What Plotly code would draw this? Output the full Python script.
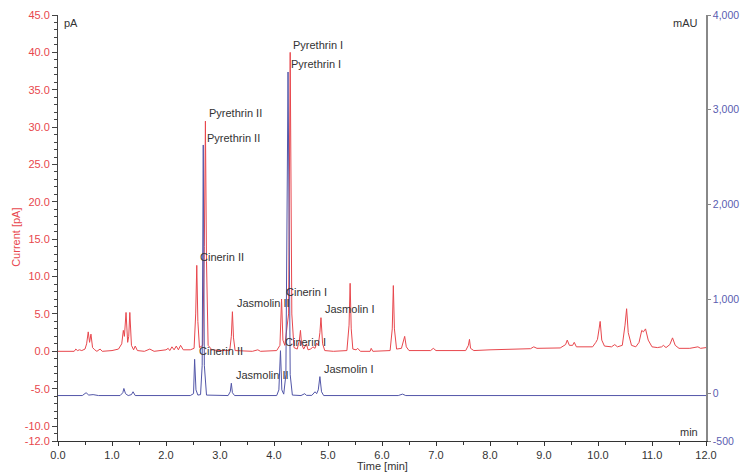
import plotly.graph_objects as go

# FID-like current trace (left axis, pA)
red_time = [0.00, 0.30, 0.33, 0.36, 0.40, 0.44, 0.50, 0.53, 0.56, 0.585, 0.61, 0.64, 0.68, 0.72, 0.78, 0.82,
            1.00, 1.12, 1.18, 1.21, 1.23, 1.26, 1.29, 1.31, 1.33, 1.36, 1.40, 1.43, 1.47, 1.60, 1.70, 1.78,
            2.00, 2.04, 2.07, 2.11, 2.15, 2.19, 2.23, 2.27, 2.32, 2.45, 2.52, 2.55, 2.57, 2.59, 2.62, 2.68,
            2.71, 2.73, 2.75, 2.78, 2.85, 3.00, 3.18, 3.21, 3.23, 3.25, 3.28, 3.60, 3.70, 3.75,
            4.05, 4.11, 4.14, 4.165, 4.20, 4.27, 4.30, 4.33, 4.37, 4.43, 4.47, 4.49, 4.51, 4.55, 4.60, 4.63,
            4.68, 4.72, 4.76, 4.79, 4.82, 4.85, 4.87, 4.90, 4.94, 5.10, 5.35, 5.39, 5.41, 5.43, 5.46, 5.52,
            5.55, 5.60, 5.78, 5.80, 5.83, 6.15, 6.19, 6.21, 6.23, 6.27, 6.36, 6.40, 6.42, 6.45, 6.50, 6.90,
            6.95, 7.00, 7.55, 7.60, 7.62, 7.64, 7.70, 8.00, 8.50, 8.75, 8.81, 8.87, 9.30, 9.40, 9.43, 9.47,
            9.53, 9.56, 9.60, 9.90, 9.96, 9.99, 10.02, 10.04, 10.07, 10.12, 10.25, 10.31, 10.36, 10.45,
            10.50, 10.53, 10.56, 10.62, 10.70, 10.76, 10.81, 10.84, 10.88, 10.93, 11.00, 11.10, 11.18,
            11.21, 11.26, 11.33, 11.38, 11.43, 11.50, 11.70, 11.85, 11.90, 12.00]
red_current = [0.0, 0.0, 0.3, 0.1, 0.2, 0.1, 0.3, 1.0, 2.6, 1.2, 2.3, 0.5, 0.2, 0.0, 0.3, 0.0,
               0.1, 0.3, 1.0, 2.8, 2.0, 5.2, 1.2, 2.0, 5.2, 0.8, 0.2, 0.7, 0.1, 0.0, 0.3, 0.0,
               0.2, 0.4, 0.1, 0.6, 0.2, 0.7, 0.2, 0.8, 0.2, 0.2, 0.4, 5.0, 11.5, 4.0, 0.5, 0.8,
               14.0, 30.8, 12.0, 0.8, 0.2, 0.1, 0.1, 2.0, 5.3, 1.8, 0.1, 0.0, 0.2, 0.0,
               0.1, 0.8, 7.0, 1.5, 0.8, 5.0, 40.0, 5.0, 0.5, 0.3, 1.5, 2.8, 1.0, 0.3, 1.0, 0.2,
               0.3, 0.6, 0.4, 1.1, 0.8, 2.5, 4.5, 1.0, 0.1, 0.0, 0.1, 3.5, 9.1, 3.0, 0.3, 0.2,
               0.4, 0.0, 0.0, 0.4, 0.0, 0.1, 3.0, 8.8, 3.0, 0.3, 0.4, 1.6, 2.0, 0.6, 0.1, 0.1,
               0.4, 0.1, 0.1, 0.8, 1.6, 0.4, 0.1, 0.2, 0.3, 0.35, 0.6, 0.4, 0.45, 0.9, 1.5, 0.8,
               0.8, 1.2, 0.6, 0.6, 1.2, 1.6, 3.0, 4.0, 1.5, 0.7, 0.6, 0.9, 0.6, 0.8,
               3.5, 5.7, 2.5, 0.8, 0.6, 1.2, 2.8, 2.6, 3.0, 1.5, 0.6, 0.5, 0.6,
               0.8, 0.5, 0.9, 1.8, 0.8, 0.4, 0.4, 0.6, 0.4, 0.5]

# UV trace (right axis, mAU)
uv_time = [0.00, 0.45, 0.52, 0.57, 0.65, 0.75, 1.15, 1.20, 1.22, 1.25, 1.30, 1.36, 1.39, 1.43,
           2.45, 2.51, 2.53, 2.555, 2.59, 2.64, 2.67, 2.69, 2.71, 2.75, 3.15, 3.19, 3.21, 3.23, 3.27,
           4.05, 4.09, 4.12, 4.145, 4.18, 4.22, 4.26, 4.30, 4.34, 4.50, 4.55, 4.57, 4.60, 4.70, 4.76,
           4.79, 4.82, 4.85, 4.88, 4.92, 6.30, 6.38, 6.44, 12.00]
uv_absorbance = [-20, -20, 10, -15, -10, -20, -20, 10, 55, 0, -20, -10, 20, -20,
                 -20, 0, 363, 40, -15, -10, 300, 2627, 300, -15, -20, 20, 110, 10, -20,
                 -20, 40, 454, 40, -5, 200, 3398, 200, -15, -20, -10, 0, -18, -18, 20,
                 0, 40, 180, 20, -20, -20, -5, -20, -20]

# Peak labels: (text, time, left-axis value)
label_text = ["Pyrethrin I", "Pyrethrin I", "Pyrethrin II", "Pyrethrin II", "Cinerin II", "Cinerin II",
              "Jasmolin II", "Jasmolin II", "Cinerin I", "Cinerin I", "Jasmolin I", "Jasmolin I"]
label_time = [4.31, 4.28, 2.76, 2.72, 2.59, 2.57, 3.28, 3.26, 4.19, 4.17, 4.91, 4.89]
label_value = [41.0, 38.4, 31.9, 28.6, 12.6, 0.0, 6.4, -3.2, 8.0, 1.2, 5.6, -2.4]

left_ticks = [45, 40, 35, 30, 25, 20, 15, 10, 5, 0, -5, -10, -12]
right_ticks = [4000, 3000, 2000, 1000, 0, -500]
x_ticks = list(range(0, 13))

RED = "#e8474d"
BLUE = "#5256a8"
FONT = "Liberation Sans, Arial, sans-serif"

fig = go.Figure()
fig.add_trace(go.Scatter(x=red_time, y=red_current, mode="lines",
                         line=dict(color=RED, width=1), yaxis="y", showlegend=False))
fig.add_trace(go.Scatter(x=uv_time, y=uv_absorbance, mode="lines",
                         line=dict(color=BLUE, width=1), yaxis="y2", showlegend=False))

annotations = []
for t, x, y in zip(label_text, label_time, label_value):
    annotations.append(dict(text=t, x=x, y=y, xref="x", yref="y", xanchor="left", yanchor="middle",
                            showarrow=False, font=dict(size=11, color="#333333", family=FONT)))

annotations += [
    dict(text="pA", x=0.006, y=0.982, xref="paper", yref="paper", xanchor="left", yanchor="middle",
         showarrow=False, font=dict(size=11, color="#333333", family=FONT)),
    dict(text="mAU", x=0.99, y=0.982, xref="paper", yref="paper", xanchor="right", yanchor="middle",
         showarrow=False, font=dict(size=11, color="#333333", family=FONT)),
    dict(text="min", x=0.99, y=0.02, xref="paper", yref="paper", xanchor="right", yanchor="middle",
         showarrow=False, font=dict(size=11, color="#333333", family=FONT)),
    dict(text="Time [min]", x=0.5, y=-0.059, xref="paper", yref="paper", xanchor="center", yanchor="middle",
         showarrow=False, font=dict(size=11, color="#333333", family=FONT)),
    dict(text="Current [pA]", x=-0.065, y=0.479, xref="paper", yref="paper", xanchor="center",
         yanchor="middle", textangle=-90, showarrow=False, font=dict(size=11, color=RED, family=FONT)),
]

fig.update_layout(
    width=740, height=474,
    margin=dict(l=58, r=34, t=15, b=33, autoexpand=False),
    paper_bgcolor="white", plot_bgcolor="white",
    font=dict(family=FONT, size=11, color="#333333"),
    xaxis=dict(range=[0, 12], tickmode="array", tickvals=x_ticks, automargin=False,
               ticktext=[f"{v:.1f}" for v in x_ticks],
               showline=True, linecolor="#333333", linewidth=1, ticks="outside", ticklen=4,
               tickcolor="#333333", showgrid=False, zeroline=False,
               minor=dict(tickmode="linear", tick0=0, dtick=0.5, ticklen=3, tickcolor="#333333", ticks="outside"),
               tickfont=dict(size=11, color="#333333")),
    yaxis=dict(range=[-12, 45], tickmode="array", tickvals=left_ticks, automargin=False,
               ticktext=[f"{v:.1f}" for v in left_ticks],
               showline=True, linecolor="#444444", linewidth=1, ticks="outside", ticklen=5,
               tickcolor="#444444", showgrid=False, zeroline=False,
               minor=dict(tickmode="linear", tick0=0, dtick=1, ticklen=3, tickcolor="#444444", ticks="outside"),
               tickfont=dict(size=11, color=RED)),
    yaxis2=dict(range=[-500, 4000], overlaying="y", side="right", anchor="x", tickmode="array",
                automargin=False,
                tickvals=right_ticks, ticktext=[f"{v:,}" for v in right_ticks],
                showline=True, linecolor="#888888", linewidth=1.5, ticks="outside", ticklen=3,
                tickcolor="#888888", showgrid=False, zeroline=False,
                tickfont=dict(size=10.5, color="#5a5db0")),
    annotations=annotations,
)

fig.write_html("out.html", config={"displayModeBar": False},
               post_script="document.body.style.margin='0';document.body.style.overflow='hidden';")
